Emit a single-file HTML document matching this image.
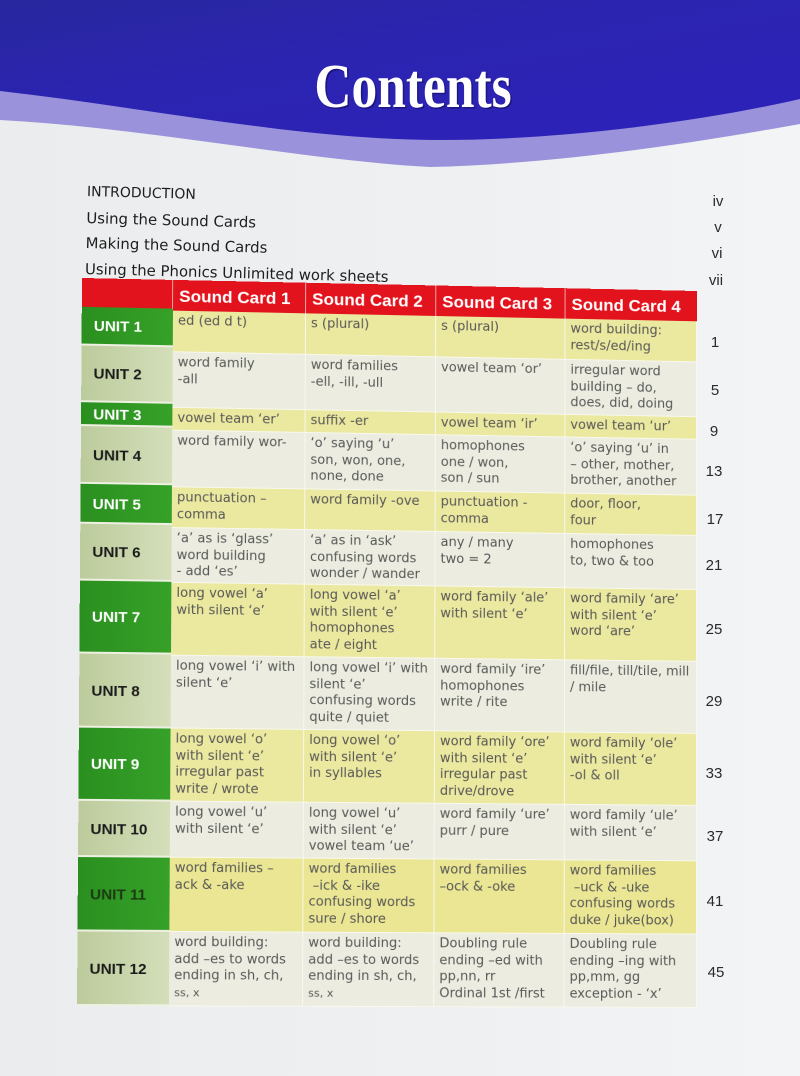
<!DOCTYPE html>
<html><head><meta charset="utf-8">
<style>
html,body{margin:0;padding:0;}
body{width:800px;height:1076px;position:relative;overflow:hidden;background:linear-gradient(90deg,#eaeced 0%,#eef0f2 55%,#f3f4f5 100%);font-family:"DejaVu Sans",sans-serif;}
#bg{position:absolute;left:0;top:0;}
.intro{position:absolute;left:87px;top:182px;transform:rotate(1.5deg);transform-origin:0 10px;color:#1e1e1e;font-size:14.9px;}
.intro div{height:25.7px;line-height:20px;white-space:nowrap;}
.pn{position:absolute;width:40px;text-align:center;font-family:"Liberation Sans",sans-serif;font-size:15px;color:#2a2a2a;line-height:18px;}
#t{position:absolute;left:0;top:0;width:615px;height:728px;transform-origin:0 0;transform:matrix3d(1.017413,0.028408,0,0.000024982,-0.0077211,0.988856,0,-0.000011077,0,0,1,0,82,278,0,1);}
#t div{position:absolute;box-sizing:border-box;}
.h{background:#e2131d;color:#fff;font:bold 17px "Liberation Sans",sans-serif;line-height:31px;padding:1px 0 0 6px;border-right:1px solid #f3a3a3;white-space:nowrap;}
.u{left:0;width:90px;font:bold 15px "Liberation Sans",sans-serif;padding:2px 0 0 12px;display:flex;align-items:center;border-bottom:2px solid #eef0e2;}
.ug{background:linear-gradient(90deg,#2a8f1f,#36a128);color:#fff;}
.ul{background:linear-gradient(90deg,#bccb9c,#d4dfba);color:#1b1b1b;}
.c{font-size:13px;line-height:16.6px;padding:3px 0 0 5px;color:#575757;border-right:1px solid #f8f8ee;border-bottom:1px solid #f8f8ee;white-space:nowrap;}
.y{background:#ebe89f;}
.w{background:#ecede0;}
.c1{left:90px;width:132px;}
.c2{left:222px;width:130px;}
.c3{left:352px;width:130px;}
.c4{left:482px;width:133px;}
</style></head>
<body>
<svg id="bg" width="800" height="1076" xmlns="http://www.w3.org/2000/svg">
<defs><linearGradient id="bl" x1="0" y1="0" x2="1" y2="1"><stop offset="0" stop-color="#28279e"/><stop offset="0.4" stop-color="#2b24b0"/><stop offset="1" stop-color="#2d21ba"/></linearGradient></defs>
<path d="M0,0 L800,0 L800,124 C700,142 560,164 430,167 C300,160 150,128 0,120 Z" fill="#9a92da"/>
<path d="M0,0 L800,0 L800,99 C700,122 560,140 440,140 C300,140 150,108 0,91 Z" fill="url(#bl)"/>
<g transform="translate(414.5,108.5) scale(0.83,1)"><text x="0" y="0" text-anchor="middle" font-family="Liberation Serif" font-weight="bold" font-size="62" fill="#120e5e" opacity="0.6">Contents</text></g>
<g transform="translate(413,107) scale(0.83,1)"><text x="0" y="0" text-anchor="middle" font-family="Liberation Serif" font-weight="bold" font-size="62" fill="#ffffff">Contents</text></g>
</svg>

<div class="intro">
<div style="font-size:14px">INTRODUCTION</div>
<div>Using the Sound Cards</div>
<div>Making the Sound Cards</div>
<div>Using the Phonics Unlimited work sheets</div>
</div>

<div class="pn" style="left:698px;top:193px">iv</div>
<div class="pn" style="left:698px;top:219px">v</div>
<div class="pn" style="left:697px;top:245px">vi</div>
<div class="pn" style="left:696px;top:272px">vii</div>
<div class="pn" style="left:695px;top:334px">1</div>
<div class="pn" style="left:695px;top:382px">5</div>
<div class="pn" style="left:694px;top:423px">9</div>
<div class="pn" style="left:694px;top:463px">13</div>
<div class="pn" style="left:695px;top:511px">17</div>
<div class="pn" style="left:694px;top:557px">21</div>
<div class="pn" style="left:694px;top:621px">25</div>
<div class="pn" style="left:694px;top:693px">29</div>
<div class="pn" style="left:694px;top:765px">33</div>
<div class="pn" style="left:695px;top:828px">37</div>
<div class="pn" style="left:695px;top:893px">41</div>
<div class="pn" style="left:696px;top:964px">45</div>

<div id="t">
<div class="h" style="left:0;top:0;width:90px;height:29px"></div>
<div class="h c1" style="top:0;height:31px">Sound Card 1</div>
<div class="h c2" style="top:0;height:31px">Sound Card 2</div>
<div class="h c3" style="top:0;height:31px">Sound Card 3</div>
<div class="h c4" style="top:0;height:31px;border-right:none">Sound Card 4</div>

<div class="u ug" style="top:29px;height:39px">UNIT 1</div>
<div class="u ul" style="top:68px;height:57px">UNIT 2</div>
<div class="u ug" style="top:125px;height:24px">UNIT 3</div>
<div class="u ul" style="top:149px;height:58px">UNIT 4</div>
<div class="u ug" style="top:207px;height:40px">UNIT 5</div>
<div class="u ul" style="top:247px;height:57px">UNIT 6</div>
<div class="u ug" style="top:304px;height:73px">UNIT 7</div>
<div class="u ul" style="top:377px;height:74px">UNIT 8</div>
<div class="u ug" style="top:451px;height:73px">UNIT 9</div>
<div class="u ul" style="top:524px;height:56px">UNIT 10</div>
<div class="u ug" style="top:580px;height:74px;color:#1d3a12">UNIT 11</div>
<div class="u ul" style="top:654px;height:74px">UNIT 12</div>

<div class="c y c1" style="top:31px;height:42px">ed (ed d t)</div>
<div class="c y c2" style="top:31px;height:42px">s (plural)</div>
<div class="c y c3" style="top:31px;height:42px">s (plural)</div>
<div class="c y c4" style="top:31px;height:42px">word building:<br>rest/s/ed/ing</div>

<div class="c w c1" style="top:73px;height:56px">word family<br>-all</div>
<div class="c w c2" style="top:73px;height:56px">word families<br>-ell, -ill, -ull</div>
<div class="c w c3" style="top:73px;height:56px">vowel team ‘or’</div>
<div class="c w c4" style="top:73px;height:56px">irregular word<br>building – do,<br>does, did, doing</div>

<div class="c y c1" style="top:129px;height:23px">vowel team ‘er’</div>
<div class="c y c2" style="top:129px;height:23px">suffix -er</div>
<div class="c y c3" style="top:129px;height:23px">vowel team ‘ir’</div>
<div class="c y c4" style="top:129px;height:23px">vowel team ‘ur’</div>

<div class="c w c1" style="top:152px;height:57px">word family wor-</div>
<div class="c w c2" style="top:152px;height:57px">‘o’ saying ‘u’<br>son, won, one,<br>none, done</div>
<div class="c w c3" style="top:152px;height:57px">homophones<br>one / won,<br>son / sun</div>
<div class="c w c4" style="top:152px;height:57px">‘o’ saying ‘u’ in<br>– other, mother,<br>brother, another</div>

<div class="c y c1" style="top:209px;height:41px">punctuation –<br>comma</div>
<div class="c y c2" style="top:209px;height:41px">word family -ove</div>
<div class="c y c3" style="top:209px;height:41px">punctuation -<br>comma</div>
<div class="c y c4" style="top:209px;height:41px">door, floor,<br>four</div>

<div class="c w c1" style="top:250px;height:55px">‘a’ as is ‘glass’<br>word building<br>- add ‘es’</div>
<div class="c w c2" style="top:250px;height:55px">‘a’ as in ‘ask’<br>confusing words<br>wonder / wander</div>
<div class="c w c3" style="top:250px;height:55px">any / many<br>two = 2</div>
<div class="c w c4" style="top:250px;height:55px">homophones<br>to, two &amp; too</div>

<div class="c y c1" style="top:305px;height:73px">long vowel ‘a’<br>with silent ‘e’</div>
<div class="c y c2" style="top:305px;height:73px">long vowel ‘a’<br>with silent ‘e’<br>homophones<br>ate / eight</div>
<div class="c y c3" style="top:305px;height:73px">word family ‘ale’<br>with silent ‘e’</div>
<div class="c y c4" style="top:305px;height:73px">word family ‘are’<br>with silent ‘e’<br>word ‘are’</div>

<div class="c w c1" style="top:378px;height:73px">long vowel ‘i’ with<br>silent ‘e’</div>
<div class="c w c2" style="top:378px;height:73px">long vowel ‘i’ with<br>silent ‘e’<br>confusing words<br>quite / quiet</div>
<div class="c w c3" style="top:378px;height:73px">word family ‘ire’<br>homophones<br>write / rite</div>
<div class="c w c4" style="top:378px;height:73px">fill/file, till/tile, mill<br>/ mile</div>

<div class="c y c1" style="top:451px;height:73px">long vowel ‘o’<br>with silent ‘e’<br>irregular past<br>write / wrote</div>
<div class="c y c2" style="top:451px;height:73px">long vowel ‘o’<br>with silent ‘e’<br>in syllables</div>
<div class="c y c3" style="top:451px;height:73px">word family ‘ore’<br>with silent ‘e’<br>irregular past<br>drive/drove</div>
<div class="c y c4" style="top:451px;height:73px">word family ‘ole’<br>with silent ‘e’<br>-ol &amp; oll</div>

<div class="c w c1" style="top:524px;height:56px">long vowel ‘u’<br>with silent ‘e’</div>
<div class="c w c2" style="top:524px;height:56px">long vowel ‘u’<br>with silent ‘e’<br>vowel team ‘ue’</div>
<div class="c w c3" style="top:524px;height:56px">word family ‘ure’<br>purr / pure</div>
<div class="c w c4" style="top:524px;height:56px">word family ‘ule’<br>with silent ‘e’</div>

<div class="c y c1" style="top:580px;height:74px;background:#eae693">word families –<br>ack &amp; -ake</div>
<div class="c y c2" style="top:580px;height:74px;background:#eae693">word families<br>&nbsp;–ick &amp; -ike<br>confusing words<br>sure / shore</div>
<div class="c y c3" style="top:580px;height:74px;background:#eae693">word families<br>–ock &amp; -oke</div>
<div class="c y c4" style="top:580px;height:74px;background:#eae693">word families<br>&nbsp;–uck &amp; -uke<br>confusing words<br>duke / juke(box)</div>

<div class="c w c1" style="top:654px;height:74px">word building:<br>add –es to words<br>ending in sh, ch,<br><span style="font-size:11px">ss, x</span></div>
<div class="c w c2" style="top:654px;height:74px">word building:<br>add –es to words<br>ending in sh, ch,<br><span style="font-size:11px">ss, x</span></div>
<div class="c w c3" style="top:654px;height:74px">Doubling rule<br>ending –ed with<br>pp,nn, rr<br>Ordinal 1st /first</div>
<div class="c w c4" style="top:654px;height:74px">Doubling rule<br>ending –ing with<br>pp,mm, gg<br>exception - ‘x’</div>
</div>
</body></html>
